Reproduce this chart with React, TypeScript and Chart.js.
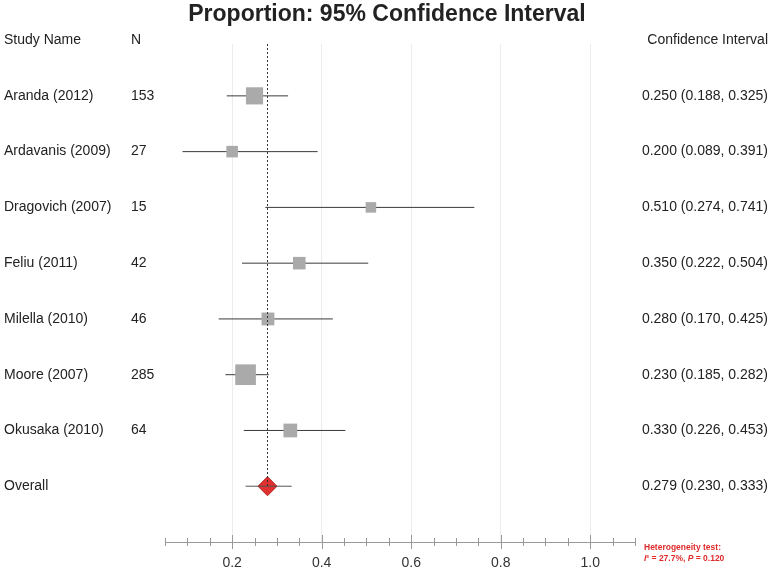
import React, { useEffect, useRef } from "react";
import { Chart, registerables } from "chart.js";

Chart.register(...registerables);

// ---------- data ----------
const chartTitle = "Proportion: 95% Confidence Interval";
const headerLabels = ["Study Name", "N", "Confidence Interval"];
const studies = [
  "Aranda (2012)",
  "Ardavanis (2009)",
  "Dragovich (2007)",
  "Feliu (2011)",
  "Milella (2010)",
  "Moore (2007)",
  "Okusaka (2010)",
];
const sampleSizes = [153, 27, 15, 42, 46, 285, 64];
const proportions = [0.25, 0.2, 0.51, 0.35, 0.28, 0.23, 0.33];
const lowerCI = [0.188, 0.089, 0.274, 0.222, 0.17, 0.185, 0.226];
const upperCI = [0.325, 0.391, 0.741, 0.504, 0.425, 0.282, 0.453];
const overallLabel = "Overall";
const overallEstimate = 0.279;
const overallLower = 0.23;
const overallUpper = 0.333;
const xLabelTicks = [0.2, 0.4, 0.6, 0.8, 1.0];
const heterogeneityTitle = "Heterogeneity test:";
const heterogeneityI2 = "27.7%";
const heterogeneityP = "0.120";

// ---------- layout / style ----------
const FONT = "'Liberation Sans', Arial, Helvetica, sans-serif";
const X_MIN = 0.05;
const X_MAX = 1.1;
const Y_MIN = 0.07;
const Y_MAX = 9;
const overallRow = studies.length + 1;

const fmt = (v: number) => v.toFixed(3);
const isMajor = (v: number) =>
  xLabelTicks.some((t) => Math.abs(t - v) < 1e-6);

const forestPlugin = {
  id: "forestText",
  afterDraw(chart: any) {
    const ctx: CanvasRenderingContext2D = chart.ctx;
    const xs = chart.scales.x;
    const ys = chart.scales.y;
    const area = chart.chartArea;
    ctx.save();

    // title
    ctx.fillStyle = "#222";
    ctx.font = `bold 23px ${FONT}`;
    ctx.textAlign = "center";
    ctx.textBaseline = "middle";
    ctx.fillText(chartTitle, chart.width / 2 + 1, 15);

    // table text
    ctx.font = `14px ${FONT}`;
    ctx.fillStyle = "#222";
    const rowY = (i: number) => ys.getPixelForValue(i);
    const colName = 4;
    const colN = 131;
    const colCI = chart.width - 4;

    ctx.textAlign = "left";
    ctx.fillText(headerLabels[0], colName, rowY(0));
    ctx.fillText(headerLabels[1], colN, rowY(0));
    ctx.textAlign = "right";
    ctx.fillText(headerLabels[2], colCI, rowY(0));

    studies.forEach((s, i) => {
      const y = rowY(i + 1);
      ctx.textAlign = "left";
      ctx.fillText(s, colName, y);
      ctx.fillText(String(sampleSizes[i]), colN, y);
      ctx.textAlign = "right";
      ctx.fillText(
        `${fmt(proportions[i])} (${fmt(lowerCI[i])}, ${fmt(upperCI[i])})`,
        colCI,
        y
      );
    });
    const yo = rowY(overallRow);
    ctx.textAlign = "left";
    ctx.fillText(overallLabel, colName, yo);
    ctx.textAlign = "right";
    ctx.fillText(
      `${fmt(overallEstimate)} (${fmt(overallLower)}, ${fmt(overallUpper)})`,
      colCI,
      yo
    );

    // tick marks crossing the axis
    const axisY = area.bottom;
    ctx.strokeStyle = "#999";
    ctx.lineWidth = 1;
    xs.ticks.forEach((t: any) => {
      const px = Math.round(xs.getPixelForValue(t.value)) + 0.5;
      const major = isMajor(t.value);
      ctx.beginPath();
      ctx.moveTo(px, axisY - (major ? 7 : 4));
      ctx.lineTo(px, axisY + (major ? 7 : 4));
      ctx.stroke();
    });

    // heterogeneity note
    ctx.fillStyle = "#e02b2b";
    ctx.textAlign = "left";
    ctx.textBaseline = "middle";
    const hx = area.right + 9;
    ctx.font = `bold 8.5px ${FONT}`;
    ctx.fillText(heterogeneityTitle, hx, axisY + 6);
    const parts: [string, boolean][] = [
      ["I", true],
      ["\u00B2 = " + heterogeneityI2 + ", ", false],
      ["P", true],
      [" = " + heterogeneityP, false],
    ];
    let cx = hx;
    parts.forEach(([txt, it]) => {
      ctx.font = `${it ? "italic " : ""}bold 8.5px ${FONT}`;
      ctx.fillText(txt, cx, axisY + 17);
      cx += ctx.measureText(txt).width;
    });

    ctx.restore();
  },
};

export default function App() {
  const ref = useRef<HTMLCanvasElement>(null);

  useEffect(() => {
    document.body.style.margin = "0";
    const sideOf = (n: number) => 7.5 + 0.78 * Math.sqrt(n);

    const ciDatasets = studies.map((s, i) => ({
      type: "line" as const,
      label: s + " CI",
      data: [
        { x: lowerCI[i], y: i + 1 },
        { x: upperCI[i], y: i + 1 },
      ],
      borderColor: "#3a3a3a",
      borderWidth: 1,
      pointRadius: 0,
      showLine: true,
      order: 3,
    }));

    const chart = new Chart(ref.current!, {
      type: "scatter",
      data: {
        datasets: [
          {
            type: "line",
            label: "overall reference",
            data: [
              { x: overallEstimate, y: Y_MIN },
              { x: overallEstimate, y: overallRow },
            ],
            borderColor: "#333",
            borderWidth: 1,
            borderDash: [2, 2],
            pointRadius: 0,
            showLine: true,
            order: 0,
          },
          ...ciDatasets,
          {
            type: "line",
            label: "Overall CI",
            data: [
              { x: overallLower, y: overallRow },
              { x: overallUpper, y: overallRow },
            ],
            borderColor: "#555",
            borderWidth: 1,
            pointRadius: 0,
            showLine: true,
            order: 1,
          },
          {
            type: "scatter",
            label: "estimates",
            data: proportions.map((p, i) => ({ x: p, y: i + 1 })),
            pointStyle: "rect",
            pointRadius: sampleSizes.map(
              (n) => sideOf(n) / (2 * Math.SQRT1_2)
            ),
            backgroundColor: "#aaaaaa",
            borderColor: "#aaaaaa",
            borderWidth: 0,
            order: 2,
          },
          {
            type: "scatter",
            label: "overall",
            data: [{ x: overallEstimate, y: overallRow }],
            pointStyle: "rectRot",
            pointRadius: 9.5,
            backgroundColor: "#e0302f",
            borderColor: "#b82020",
            borderWidth: 1,
            order: 2,
          },
        ] as any,
      },
      options: {
        responsive: false,
        maintainAspectRatio: false,
        animation: false,
        events: [],
        layout: { padding: { left: 165, right: 137, top: 44, bottom: 0 } },
        plugins: {
          legend: { display: false },
          tooltip: { enabled: false },
          title: { display: false },
        },
        scales: {
          x: {
            type: "linear",
            min: X_MIN,
            max: X_MAX,
            afterFit: (scale: any) => {
              scale.height = 28;
            },
            border: { display: true, color: "#999", width: 1 },
            grid: {
              drawTicks: false,
              color: (c: any) =>
                c.tick && isMajor(c.tick.value) ? "#ececec" : "rgba(0,0,0,0)",
            },
            ticks: {
              stepSize: 0.05,
              autoSkip: false,
              maxRotation: 0,
              padding: 13,
              color: "#333",
              font: { family: FONT, size: 14 },
              callback: (v: any) => (isMajor(Number(v)) ? Number(v).toFixed(1) : ""),
            },
          },
          y: {
            type: "linear",
            display: false,
            reverse: true,
            min: Y_MIN,
            max: Y_MAX,
          },
        },
      },
      plugins: [forestPlugin],
    } as any);
    return () => chart.destroy();
  }, []);

  return (
    <div style={{ width: 772, height: 570 }}>
      <canvas ref={ref} width={772} height={570} style={{ display: "block" }} />
    </div>
  );
}
